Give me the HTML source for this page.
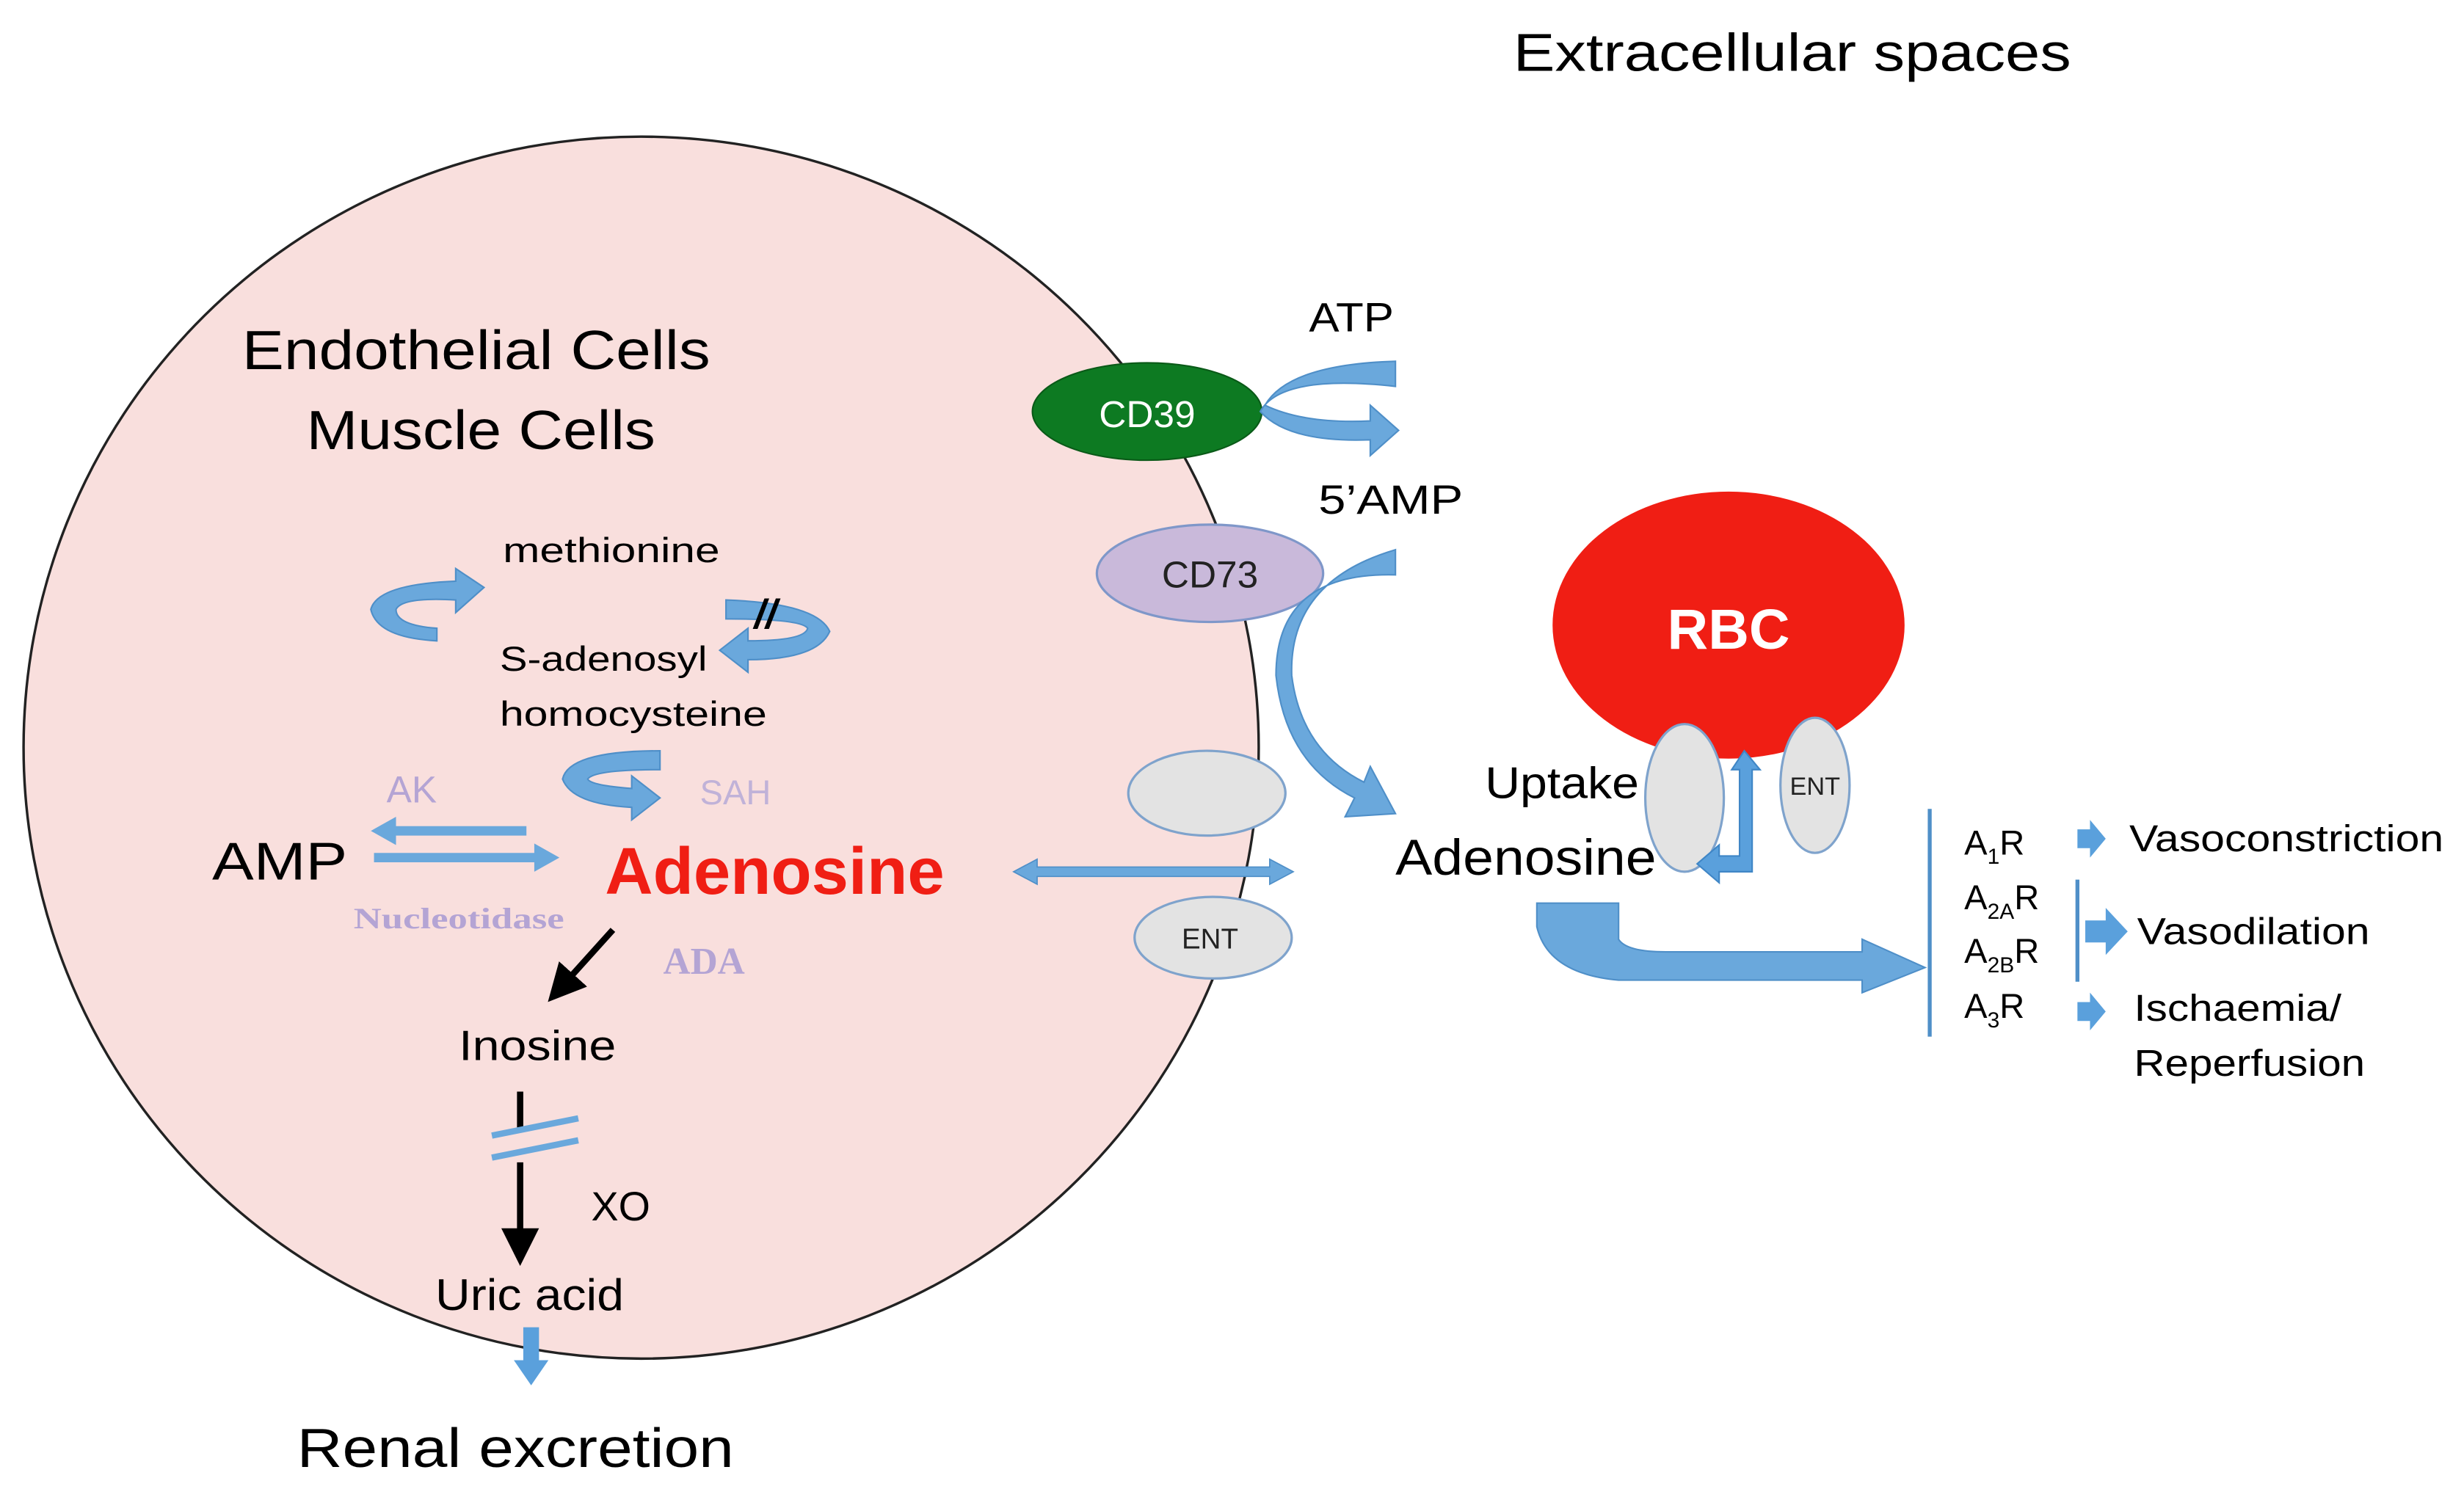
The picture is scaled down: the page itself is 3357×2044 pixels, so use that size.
<!DOCTYPE html>
<html><head><meta charset="utf-8"><style>
html,body{margin:0;padding:0;background:#fff;}
svg{display:block;}
text{font-family:"Liberation Sans",sans-serif;}
</style></head><body>
<svg width="3357" height="2044" viewBox="0 0 1568 955" preserveAspectRatio="none" xmlns="http://www.w3.org/2000/svg">
<defs>
<marker id="bk" markerWidth="6" markerHeight="6" refX="4" refY="3" orient="auto" markerUnits="strokeWidth"><path d="M0,0 L6,3 L0,6 z" fill="#000"/></marker>
</defs>
<ellipse cx="408" cy="476" rx="393" ry="389" fill="#f9dfdd" stroke="#222" stroke-width="1.6"/>
<text x="963" y="45" font-size="34" textLength="355" lengthAdjust="spacingAndGlyphs">Extracellular spaces</text>
<text x="303" y="235" font-size="35" text-anchor="middle" textLength="298" lengthAdjust="spacingAndGlyphs">Endothelial Cells</text>
<text x="306" y="286" font-size="35" text-anchor="middle" textLength="222" lengthAdjust="spacingAndGlyphs">Muscle Cells</text>

<ellipse cx="730" cy="262" rx="73" ry="31" fill="#0d7a22" stroke="#0a5a18" stroke-width="1"/>
<text x="730" y="272" font-size="24" fill="#fff" text-anchor="middle">CD39</text>
<ellipse cx="770" cy="365" rx="72" ry="31" fill="#c9b9da" stroke="#7f97c9" stroke-width="1.5"/>
<text x="770" y="374" font-size="24" fill="#222" text-anchor="middle">CD73</text>
<ellipse cx="768" cy="505" rx="50" ry="27" fill="#e3e3e3" stroke="#7fa3cc" stroke-width="1.5"/>
<ellipse cx="772" cy="597" rx="50" ry="26" fill="#e3e3e3" stroke="#7fa3cc" stroke-width="1.5"/>
<text x="770" y="604" font-size="18" fill="#222" text-anchor="middle">ENT</text>

<text x="860" y="211" font-size="26" text-anchor="middle" textLength="54" lengthAdjust="spacingAndGlyphs">ATP</text>
<text x="885" y="327" font-size="26" text-anchor="middle" textLength="92" lengthAdjust="spacingAndGlyphs">5’AMP</text>

<path d="M888,230 Q820,232 805,258 Q830,270 872,268 L872,258 L890,274 L872,290 L872,280 Q820,282 802,262 Q815,238 888,246 Z" fill="#6aa8dc" stroke="#4f8fc8" stroke-width="1"/>
<path d="M888,350 Q820,370 822,430 Q828,478 868,498 L872,488 L888,518 L856,520 L862,508 Q818,486 812,430 Q812,364 888,366 Z" fill="#6aa8dc" stroke="#4f8fc8" stroke-width="1"/>

<ellipse cx="1100" cy="398" rx="112" ry="85" fill="#f01e14"/>
<text x="1100" y="413" font-size="36" font-weight="bold" fill="#fff" text-anchor="middle">RBC</text>
<ellipse cx="1072" cy="508" rx="25" ry="47" fill="#e3e3e3" stroke="#7fa3cc" stroke-width="1.5"/>
<ellipse cx="1155" cy="500" rx="22" ry="43" fill="#e3e3e3" stroke="#7fa3cc" stroke-width="1.5"/>
<text x="1155" y="506" font-size="16" fill="#222" text-anchor="middle">ENT</text>
<text x="994" y="508" font-size="28" text-anchor="middle" textLength="98" lengthAdjust="spacingAndGlyphs">Uptake</text>
<text x="971" y="557" font-size="32" text-anchor="middle" textLength="166" lengthAdjust="spacingAndGlyphs">Adenosine</text>
<path d="M1110,478 L1102,490 L1107,490 L1107,545 L1094,545 L1094,538 L1080,550 L1094,562 L1094,555 L1115,555 L1115,490 L1120,490 Z" fill="#5aa0dc" stroke="#3f86c6" stroke-width="1"/>

<path d="M978,575 L1030,575 L1030,598 Q1035,606 1060,606 L1185,606 L1185,598 L1225,616 L1185,632 L1185,624 L1030,624 Q985,620 978,590 Z" fill="#6aa8dc" stroke="#4f8fc8" stroke-width="1"/>

<line x1="1228" y1="515" x2="1228" y2="660" stroke="#4f8fc8" stroke-width="2.5"/>
<line x1="1322" y1="560" x2="1322" y2="625" stroke="#4f8fc8" stroke-width="2.5"/>
<text x="1250" y="544" font-size="22">A<tspan font-size="14" dy="6">1</tspan><tspan dy="-6">R</tspan></text>
<text x="1250" y="579" font-size="22">A<tspan font-size="14" dy="6">2A</tspan><tspan dy="-6">R</tspan></text>
<text x="1250" y="613" font-size="22">A<tspan font-size="14" dy="6">2B</tspan><tspan dy="-6">R</tspan></text>
<text x="1250" y="648" font-size="22">A<tspan font-size="14" dy="6">3</tspan><tspan dy="-6">R</tspan></text>
<path d="M1322,528 L1330,528 L1330,522 L1340,534 L1330,546 L1330,540 L1322,540 Z" fill="#5aa0dc"/>
<path d="M1327,586 L1340,586 L1340,578 L1354,593 L1340,608 L1340,600 L1327,600 Z" fill="#5aa0dc"/>
<path d="M1322,638 L1330,638 L1330,632 L1340,644 L1330,656 L1330,650 L1322,650 Z" fill="#5aa0dc"/>
<text x="1355" y="542" font-size="24" textLength="200" lengthAdjust="spacingAndGlyphs">Vasoconstriction</text>
<text x="1360" y="601" font-size="24" textLength="148" lengthAdjust="spacingAndGlyphs">Vasodilation</text>
<text x="1358" y="650" font-size="24" textLength="132" lengthAdjust="spacingAndGlyphs">Ischaemia/</text>
<text x="1358" y="685" font-size="24" textLength="147" lengthAdjust="spacingAndGlyphs">Reperfusion</text>

<text x="389" y="358" font-size="22" text-anchor="middle" textLength="138" lengthAdjust="spacingAndGlyphs">methionine</text>
<text x="384" y="427" font-size="22" text-anchor="middle" textLength="132" lengthAdjust="spacingAndGlyphs">S-adenosyl</text>
<text x="403" y="462" font-size="22" text-anchor="middle" textLength="170" lengthAdjust="spacingAndGlyphs">homocysteine</text>
<path d="M290,370 Q240,372 236,388 Q240,406 278,408 L278,400 Q252,398 252,388 Q256,380 290,382 L290,390 L308,374 L290,362 Z" fill="#6aa8dc" stroke="#4f8fc8"/>
<path d="M462,382 Q520,384 528,402 Q520,420 476,420 L476,428 L458,414 L476,400 L476,408 Q512,408 514,400 Q510,394 462,394 Z" fill="#6aa8dc" stroke="#4f8fc8"/>
<text x="480" y="400" font-size="26" font-weight="bold" font-style="italic">//</text>
<path d="M420,478 Q362,478 358,496 Q364,512 402,514 L402,522 L420,508 L402,494 L402,502 Q376,500 374,496 Q378,490 420,490 Z" fill="#6aa8dc" stroke="#4f8fc8"/>
<text x="262" y="511" font-size="24" fill="#b4a4d4" text-anchor="middle">AK</text>
<text x="468" y="512" font-size="22" fill="#c0b2d8" text-anchor="middle">SAH</text>

<text x="178" y="560" font-size="34" text-anchor="middle" textLength="86" lengthAdjust="spacingAndGlyphs">AMP</text>
<text x="493" y="569" font-size="42" font-weight="bold" fill="#f01e14" text-anchor="middle" textLength="216" lengthAdjust="spacingAndGlyphs">Adenosine</text>
<path d="M335,526 L252,526 L252,520 L236,529 L252,538 L252,532 L335,532 Z" fill="#6aa8dc"/>
<path d="M238,543 L340,543 L340,537 L356,546 L340,555 L340,549 L238,549 Z" fill="#6aa8dc"/>
<text x="292" y="591" font-size="19" font-weight="bold" fill="#b4a4d4" text-anchor="middle" style="font-family:'Liberation Serif',serif" textLength="134" lengthAdjust="spacingAndGlyphs">Nucleotidase</text>
<text x="448" y="620" font-size="24" font-weight="bold" fill="#b4a4d4" text-anchor="middle" style="font-family:'Liberation Serif',serif">ADA</text>
<path d="M645,555 L660,547 L660,552 L808,552 L808,547 L823,555 L808,563 L808,558 L660,558 L660,563 Z" fill="#6aa8dc" stroke="#4f8fc8" stroke-width="0.8"/>

<line x1="390" y1="592" x2="354" y2="632" stroke="#000" stroke-width="4" marker-end="url(#bk)"/>
<text x="342" y="675" font-size="27" text-anchor="middle" textLength="100" lengthAdjust="spacingAndGlyphs">Inosine</text>
<line x1="331" y1="695" x2="331" y2="720" stroke="#000" stroke-width="4"/>
<line x1="331" y1="740" x2="331" y2="798" stroke="#000" stroke-width="4" marker-end="url(#bk)"/>
<line x1="313" y1="723" x2="368" y2="712" stroke="#6aa8dc" stroke-width="4"/>
<line x1="313" y1="737" x2="368" y2="726" stroke="#6aa8dc" stroke-width="4"/>
<text x="395" y="777" font-size="26" text-anchor="middle">XO</text>
<text x="337" y="834" font-size="28" text-anchor="middle" textLength="120" lengthAdjust="spacingAndGlyphs">Uric acid</text>
<path d="M333,845 L343,845 L343,866 L349,866 L338,882 L327,866 L333,866 Z" fill="#5aa0dc"/>
<text x="328" y="934" font-size="35" text-anchor="middle" textLength="278" lengthAdjust="spacingAndGlyphs">Renal excretion</text>
</svg>
</body></html>
